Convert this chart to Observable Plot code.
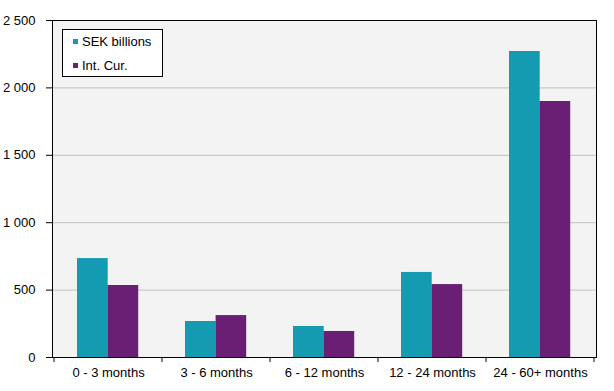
<!DOCTYPE html>
<html>
<head>
<meta charset="utf-8">
<script src="https://cdn.jsdelivr.net/npm/d3@7"></script>
<script src="https://cdn.jsdelivr.net/npm/@observablehq/plot@0.6"></script>
<style>
  html, body { margin: 0; padding: 0; background: #fff; }
  #wrap { position: relative; width: 614px; height: 391px; font-family: "Liberation Sans", Arial, sans-serif; }
  #legend { position: absolute; left: 62px; top: 29px; width: 99px; height: 46px; background: #fff; border: 1px solid #000; font-size: 13px; color: #000; }
  .item { position: absolute; left: 10px; display: flex; align-items: center; }
  .sw { width: 5px; height: 5px; margin-right: 4px; }
</style>
</head>
<body>
<div id="wrap">
  <div id="chart"></div>
  <div id="legend">
    <div class="item" style="top:4px"><span class="sw" style="background:#149AB1"></span><span>SEK billions</span></div>
    <div class="item" style="top:28px"><span class="sw" style="background:#6A1F74"></span><span>Int. Cur.</span></div>
  </div>
</div>
<script>
const categories = ["0 - 3 months", "3 - 6 months", "6 - 12 months", "12 - 24 months", "24 - 60+ months"];
const sekBillions = [734, 267, 230, 631, 2270];
const intCur = [534, 311, 193, 541, 1899];
const yTicks = [0, 500, 1000, 1500, 2000, 2500];
const colors = { sek: "#149AB1", int: "#6A1F74" };

const sekRows = categories.map((c, i) => ({ cat: c, value: sekBillions[i] }));
const intRows = categories.map((c, i) => ({ cat: c, value: intCur[i] }));

const fmt = d => d3.format(",")(d).replace(/,/g, " ");

const W = 614, H = 391, ML = 52, MR = 18, MT = 20, MB = 34;

const boundaryTicks = (index, scales, values, dims) => {
  const g = d3.create("svg:g");
  const x = scales.x;
  const bw = x.bandwidth();
  const xs = categories.map(c => x(c)).concat([x(categories[categories.length - 1]) + bw]);
  const y0 = dims.height - dims.marginBottom;
  for (const xv of xs) {
    g.append("line").attr("x1", xv).attr("x2", xv).attr("y1", y0).attr("y2", y0 + 5)
      .attr("stroke", "#000").attr("stroke-width", 1);
  }
  return g.node();
};

const chart = Plot.plot({
  width: W,
  height: H,
  marginLeft: ML,
  marginRight: MR,
  marginTop: MT,
  marginBottom: MB,
  style: { fontFamily: "'Liberation Sans', Arial, sans-serif", fontSize: "13px", color: "#000", background: "#fff" },
  x: { type: "band", domain: categories, padding: 0, label: null },
  y: { domain: [0, 2500], label: null },
  marks: [
    Plot.frame({ fill: "#f3f3f3", stroke: null }),
    Plot.gridY(yTicks.filter(t => t > 0 && t < 2500), { stroke: "#c0c0c0", strokeOpacity: 1 }),
    Plot.barY(sekRows, { x: "cat", y: "value", fill: colors.sek, insetLeft: 23, insetRight: 54.3 }),
    Plot.barY(intRows, { x: "cat", y: "value", fill: colors.int, insetLeft: 53.6, insetRight: 23.8 }),
    Plot.frame({ stroke: "#000", strokeWidth: 1 }),
    Plot.axisY(yTicks, { tickFormat: fmt, tickSize: 6, tickPadding: 11, fontSize: 13, stroke: "#000" }),
    Plot.axisX({ tickSize: 0, tickPadding: 10, fontSize: 13 }),
    boundaryTicks
  ]
});
document.getElementById("chart").appendChild(chart);
</script>
</body>
</html>
